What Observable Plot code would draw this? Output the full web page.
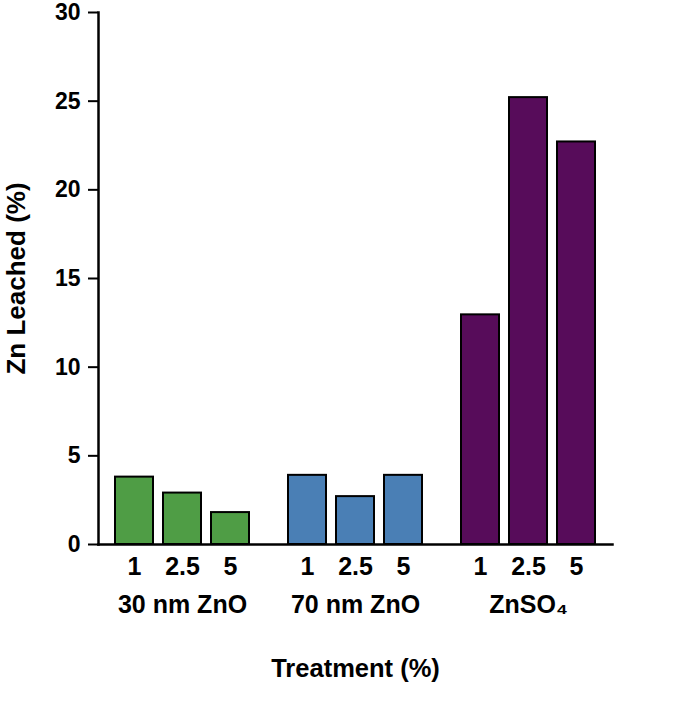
<!DOCTYPE html>
<html>
<head>
<meta charset="utf-8">
<script src="https://cdn.jsdelivr.net/npm/d3@7"></script>
<script src="https://cdn.jsdelivr.net/npm/@observablehq/plot@0.6"></script>
<style>
  html, body { margin: 0; padding: 0; background: white; }
</style>
</head>
<body>
<div id="chart"></div>
<script>
const groups = ["30 nm ZnO", "70 nm ZnO", "ZnSO\u2084"];
const doses = ["1", "2.5", "5"];
const zno30 = [3.8, 2.9, 1.8];
const zno70 = [3.9, 2.7, 3.9];
const znso4 = [12.95, 25.2, 22.7];
const groupColors = ["#4f9d45", "#4a7fb5", "#570c5a"];
const yTicks = [0, 5, 10, 15, 20, 25, 30];

const seriesValues = [zno30, zno70, znso4];
const data = groups.flatMap((g, i) =>
  doses.map((d, j) => ({group: g, dose: d, value: seriesValues[i][j]}))
);

const chart = Plot.plot({
  width: 685,
  height: 725,
  marginTop: 12,
  marginBottom: 181,
  marginLeft: 98,
  marginRight: 58,
  style: {
    fontFamily: "'Liberation Sans', Arial, Helvetica, sans-serif",
    fontSize: "25px",
    fontWeight: "bold",
    color: "black",
    background: "white"
  },
  fx: {domain: groups, paddingInner: 0.03, paddingOuter: 0.04, align: 0},
  x: {domain: doses, paddingInner: 0.21, paddingOuter: 0.355},
  y: {domain: [0, 30], ticks: yTicks},
  color: {domain: groups, range: groupColors},
  marks: [
    Plot.barY(data, {
      fx: "group", x: "dose", y: "value",
      fill: "group", stroke: "black", strokeWidth: 2
    }),
    Plot.frame({anchor: "bottom", facet: "super", stroke: "black", strokeWidth: 2.5}),
    Plot.frame({anchor: "left", facet: "super", stroke: "black", strokeWidth: 2.5}),
    Plot.axisY({
      ticks: yTicks, tickSize: 10, tickPadding: 8, strokeWidth: 2,
      tickFormat: d => String(d), fontSize: 23,
      label: null
    }),
    Plot.axisY({
      ticks: [], tickSize: 0,
      label: "Zn Leached (%)", labelAnchor: "center", labelArrow: "none", labelOffset: 92,
      fontSize: 26
    }),
    Plot.axisX({tickSize: 0, tickPadding: 13, label: null, fontSize: 25}),
    Plot.axisFx({
      anchor: "bottom", tickSize: 0, tickPadding: 51,
      label: null, fontSize: 25
    }),
    Plot.axisFx({
      anchor: "bottom", ticks: [], tickSize: 0,
      label: "Treatment (%)", labelAnchor: "center", labelArrow: "none", labelOffset: 132,
      fontSize: 25.5
    })
  ]
});
document.getElementById("chart").appendChild(chart);
</script>
</body>
</html>
